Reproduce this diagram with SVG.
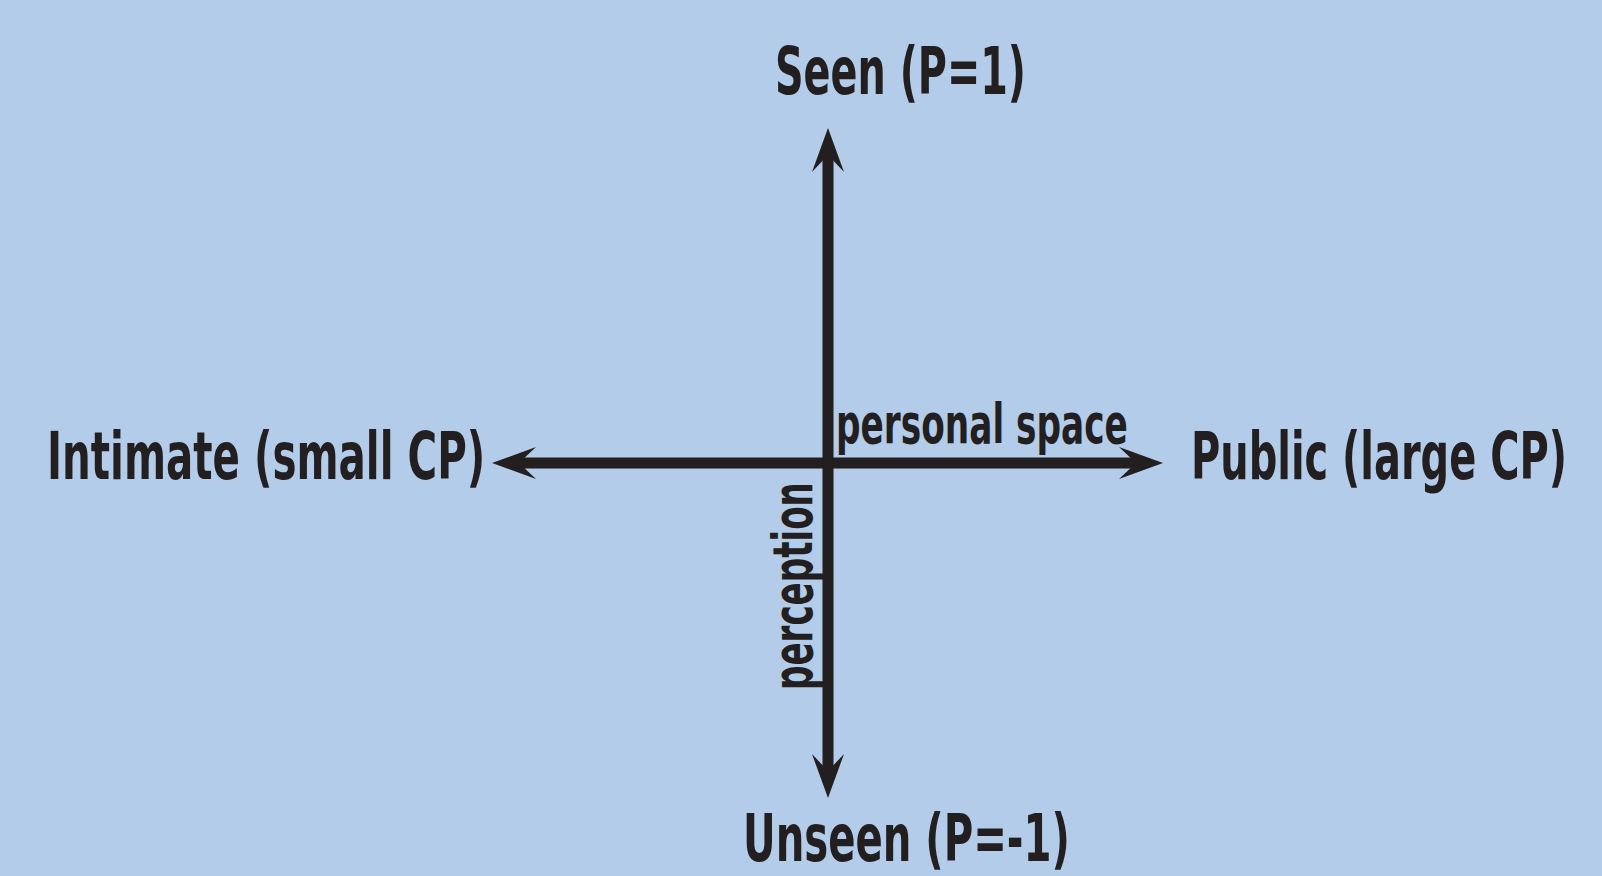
<svg xmlns="http://www.w3.org/2000/svg" width="1602" height="876" viewBox="0 0 1602 876">
  <style>
    .lbl { font-family: "Liberation Sans Narrow", "DejaVu Sans Condensed", "Liberation Sans", sans-serif; font-weight: bold; fill: #231f20; }
    .big { font-size: 65px; }
    .small { font-size: 56px; }
    .axis { stroke: #231f20; stroke-width: 11; fill: none; }
  </style>
  <defs>
    <marker id="head" viewBox="-20 -20 50 40" refX="0" refY="0" markerWidth="50" markerHeight="40" markerUnits="userSpaceOnUse" orient="auto-start-reverse">
      <path d="M27,0 L-17,-16 L0,0 L-17,16 Z" fill="#231f20"/>
    </marker>
  </defs>
  <rect width="1602" height="876" fill="#b2cce9"/>
  <g id="connectors">
    <line class="axis" x1="519" y1="463" x2="1136" y2="463" marker-start="url(#head)" marker-end="url(#head)"/>
    <line class="axis" x1="828" y1="155" x2="828" y2="771" marker-start="url(#head)" marker-end="url(#head)"/>
  </g>
  <g id="seen"><text class="lbl big" transform="translate(775,94) scale(0.7,1)" textLength="358.6" lengthAdjust="spacingAndGlyphs">Seen (P=1)</text></g>
  <g id="unseen"><text class="lbl big" transform="translate(743,861) scale(0.7,1)" textLength="467" lengthAdjust="spacingAndGlyphs">Unseen (P=-1)</text></g>
  <g id="intimate"><text class="lbl big" transform="translate(47,479) scale(0.7,1)" textLength="626" lengthAdjust="spacingAndGlyphs">Intimate (small CP)</text></g>
  <g id="public"><text class="lbl big" transform="translate(1191,479) scale(0.7,1)" textLength="537" lengthAdjust="spacingAndGlyphs">Public (large CP)</text></g>
  <g id="personal-space"><text class="lbl small" transform="translate(836,443) scale(0.7,1)" textLength="417" lengthAdjust="spacingAndGlyphs">personal space</text></g>
  <g id="perception"><text class="lbl small" transform="translate(812,690) rotate(-90) scale(0.7,1)" textLength="297" lengthAdjust="spacingAndGlyphs">perception</text></g>
</svg>
